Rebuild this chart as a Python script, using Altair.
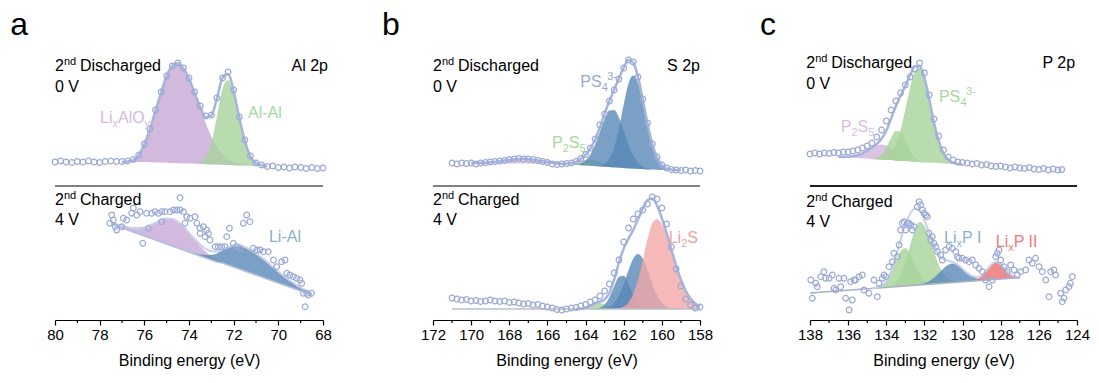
import altair as alt
import pandas as pd

FONT = "Liberation Sans"
PLOT_H = 280
SEP_V = 134

# ---------------- Panel a : Al 2p ----------------
A_TICKS = [80, 78, 76, 74, 72, 70, 68]
A_MINOR = [79, 77, 75, 73, 71, 69]

A_TOP_DATA_E = [80.0, 79.75, 79.5, 79.25, 79.0, 78.75, 78.5, 78.25, 78.0, 77.75, 77.5, 77.25, 77.0,
                76.75, 76.5, 76.25, 76.0, 75.75, 75.5, 75.25, 75.0, 74.75, 74.5, 74.25, 74.0, 73.75,
                73.5, 73.25, 73.0, 72.75, 72.5, 72.25, 72.0, 71.75, 71.5, 71.25, 71.0, 70.75, 70.5,
                70.25, 70.0, 69.75, 69.5, 69.25, 69.0, 68.75, 68.5, 68.25, 68.0]
A_TOP_DATA_V = [158, 159, 158, 157.5, 158.5, 158, 159, 158, 157.5, 158.5, 159, 158.5, 158.5,
                159, 160.5, 165, 176, 191, 210, 228, 244, 254, 257, 252, 242, 228,
                214, 204, 205, 222, 242, 248, 230, 203, 180, 164, 157, 155, 153.5,
                154, 152.5, 153, 152, 153, 152.5, 151.5, 152.5, 151.5, 152]
A_TOP_FIT_E = [77.0, 76.75, 76.5, 76.25, 76.0, 75.75, 75.5, 75.25, 75.0, 74.75, 74.5, 74.25, 74.0,
               73.75, 73.5, 73.25, 73.0, 72.75, 72.5, 72.25, 72.0, 71.75, 71.5, 71.25, 71.0, 70.75, 70.5]
A_TOP_BASE = [158, 158, 158, 158, 158, 157.8, 157.6, 157.4, 157.2, 157, 156.8, 156.6, 156.4,
              156.2, 156, 155.8, 155.6, 155.4, 155.2, 155, 154.8, 154.6, 154.4, 154.2, 154, 153.8, 153.6]
A_TOP_LIALO = [0, 0.5, 2, 7, 18, 33, 52, 70, 87, 97, 100, 95, 85,
               71, 56, 41, 28, 18, 11, 6, 3, 2, 1, 0, 0, 0, 0]
A_TOP_ALAL = [0, 0, 0, 0, 0, 0, 0, 0, 0, 0, 0, 0, 0,
              0, 1, 6, 21, 48, 76, 85, 71, 46, 24, 9, 3, 1, 0]

A_BOT_DATA_E = [77.54, 77.46, 77.39, 77.31, 77.24, 77.01, 76.94, 76.79, 76.57, 76.49, 76.34, 76.19,
                76.07, 75.90, 75.82, 75.67, 75.52, 75.37, 75.22, 75.22, 75.07, 74.85, 74.70, 74.55,
                74.40, 74.40, 74.25, 74.18, 74.10, 73.95, 73.73, 73.65, 73.51, 73.50, 73.36, 73.28,
                73.21, 73.13, 73.06, 72.83, 72.69, 72.54, 72.39, 72.31, 72.19, 72.02, 71.86, 71.72,
                71.57, 71.42, 71.27, 71.12, 70.97, 70.82, 70.67, 70.45, 70.22, 70.07, 69.85, 69.70,
                69.62, 69.48, 69.33, 69.18, 69.03, 68.95, 68.88, 68.80, 68.73, 68.66, 68.51]
A_BOT_DATA_V = [96.7, 105, 100, 93.3, 90, 93.3, 101.7, 100, 106.7, 112, 105, 108.3,
                76.7, 106.7, 91.7, 106.7, 108.3, 106.7, 108.3, 98.3, 108.3, 108.3, 110, 110,
                110, 122.3, 108.3, 96.7, 103.3, 101.7, 103.3, 96.7, 91.7, 86.7, 93.3, 83.3,
                90, 86.7, 80, 73.3, 73.3, 73.3, 73.3, 83.3, 91.7, 76.7, 73.3, 71.7,
                96.7, 105, 98.3, 71.7, 70, 70, 68.3, 68.3, 60, 53.3, 58.3, 60,
                46.7, 45, 43.3, 41.7, 40, 36.7, 26.7, 13.3, 26.7, 25, 26.7]
A_BOT_FIT_E = [77.5, 77.25, 77.0, 76.75, 76.5, 76.25, 76.0, 75.75, 75.5, 75.25, 75.0, 74.75, 74.5,
               74.25, 74.0, 73.75, 73.5, 73.25, 73.0, 72.75, 72.5, 72.25, 72.0, 71.75, 71.5, 71.25,
               71.0, 70.75, 70.5, 70.25, 70.0, 69.75, 69.5, 69.25, 69.0, 68.75, 68.5]
A_BOT_BASE = [96, 94, 92, 90, 88, 86, 84, 82, 80, 78, 76, 74, 72,
              70, 68, 66, 64, 62, 60, 58, 57, 55, 53, 51, 49, 47,
              45, 43, 41, 39, 37, 35, 33, 31, 29, 27, 25]
A_BOT_LIALO = [1, 1.5, 2, 3, 4, 6, 8.4, 12.6, 17.3, 21.9, 25.4, 27, 26.3,
               23.5, 19.2, 14.4, 10, 6.3, 3.6, 1.9, 0.9, 0.4, 0.2, 0, 0, 0,
               0, 0, 0, 0, 0, 0, 0, 0, 0, 0, 0]
A_BOT_LIAL = [0, 0, 0, 0, 0, 0, 0, 0, 0, 0, 0, 0, 0,
              0, 0, 0.7, 1.4, 2.9, 5.2, 8.6, 12.7, 17.3, 21.2, 23.6, 24, 23.2,
              21.6, 19.5, 17, 14.3, 11.6, 9, 6.8, 5, 3.5, 2.4, 1.5]

# ---------------- Panel b : S 2p ----------------
B_TICKS = [172, 170, 168, 166, 164, 162, 160, 158]
B_MINOR = [171, 169, 167, 165, 163, 161, 159]

B_DATA_E = [171.0, 170.75, 170.5, 170.25, 170.0, 169.75, 169.5, 169.25, 169.0, 168.75, 168.5, 168.25,
            168.0, 167.75, 167.5, 167.25, 167.0, 166.75, 166.5, 166.25, 166.0, 165.75, 165.5, 165.25,
            165.0, 164.75, 164.5, 164.25, 164.0, 163.75, 163.5, 163.25, 163.0, 162.75, 162.5, 162.25,
            162.0, 161.75, 161.5, 161.25, 161.0, 160.75, 160.5, 160.25, 160.0, 159.75, 159.5, 159.25,
            159.0, 158.75, 158.5, 158.25, 158.0]
B_TOP_DATA_V = [157, 156, 157, 156.5, 157, 156, 157, 157.5, 158, 158.5, 159, 159.5,
                160.5, 161, 161.5, 161, 161, 160.5, 159.5, 158.5, 157.5, 156, 155.5, 156,
                156.5, 157, 158.5, 161.5, 165.5, 172, 181, 195, 206, 219, 230, 241,
                252, 260, 258, 243, 221, 197, 176, 163, 155, 152, 150.5, 150,
                149.5, 150, 149, 149.5, 149]
B_BOT_DATA_V = [22, 21, 20, 20.5, 19, 19.5, 18.5, 19, 20, 19, 18.5, 19,
                17.5, 18, 17, 16, 16.5, 15, 15.5, 14, 13, 12, 10.5, 10,
                11, 12, 12.5, 14, 15.5, 18, 20, 24, 29, 36, 47, 60,
                78, 92, 101, 106, 110, 116, 123, 121, 112, 96, 73, 51,
                34, 21, 15, 12, 13]
B_TOP_FIT_E = [170.0, 169.75, 169.5, 169.25, 169.0, 168.75, 168.5, 168.25, 168.0, 167.75, 167.5,
               167.25, 167.0, 166.75, 166.5, 166.25, 166.0, 165.75, 165.5, 165.25, 165.0, 164.75,
               164.5, 164.25, 164.0, 163.75, 163.5, 163.25, 163.0, 162.75, 162.5, 162.25, 162.0,
               161.75, 161.5, 161.25, 161.0, 160.75, 160.5, 160.25, 160.0, 159.75, 159.5, 159.25, 159.0]
B_TOP_BASE = [157, 156.8, 156.7, 156.6, 156.5, 156.5, 156.4, 156.4, 156.3, 156.3, 156.2,
              156.2, 156.1, 156, 156, 155.9, 155.8, 155.7, 155.6, 155.5, 155.4, 155.3,
              155, 154.8, 154.5, 154.3, 154, 153.7, 153.4, 153, 152.7, 152.4, 152.1,
              151.8, 151.5, 151.2, 150.9, 150.6, 150.4, 150.2, 150, 150, 150, 150, 150]
B_TOP_SOX = [0, 0.2, 0.4, 0.7, 1.2, 1.7, 2.4, 3.2, 3.9, 4.5, 4.9,
             5, 4.8, 4.3, 3.6, 2.9, 2.1, 1.5, 1, 0.6, 0.3, 0,
             0, 0, 0, 0, 0, 0, 0, 0, 0, 0, 0,
             0, 0, 0, 0, 0, 0, 0, 0, 0, 0, 0, 0]
B_TOP_P2S5 = [0, 0, 0, 0, 0, 0, 0, 0, 0, 0, 0,
              0, 0, 0, 0, 0, 0, 0, 0, 0, 0.8, 1.7,
              3, 4.5, 5.7, 6, 5.3, 3.9, 2.5, 1.3, 0.6, 0.2, 0,
              0, 0, 0, 0, 0, 0, 0, 0, 0, 0, 0, 0]
B_TOP_PS4A = [0, 0, 0, 0, 0, 0, 0, 0, 0, 0, 0,
              0, 0, 0, 0, 0, 0, 0, 0, 0, 0, 0,
              0, 2, 5.1, 11.3, 21.3, 34.4, 47.6, 56.4, 57.3, 49.8, 37.1,
              23.7, 12.9, 6.1, 2.4, 0.8, 0, 0, 0, 0, 0, 0, 0]
B_TOP_PS4B = [0, 0, 0, 0, 0, 0, 0, 0, 0, 0, 0,
              0, 0, 0, 0, 0, 0, 0, 0, 0, 0, 0,
              0, 0, 0, 0, 0, 0.8, 2.9, 8.4, 20, 39.2, 63.3,
              84.5, 93, 85.8, 67.2, 44.8, 25.4, 12.2, 5, 1.7, 0.5, 0, 0]

B_BOT_BASE_LINE_E = [171, 158]
B_BOT_BASE_LINE_V = [11, 11]
B_BOT_FIT_E = [164.5, 164.25, 164.0, 163.75, 163.5, 163.25, 163.0, 162.75, 162.5, 162.25, 162.0,
               161.75, 161.5, 161.25, 161.0, 160.75, 160.5, 160.25, 160.0, 159.75, 159.5, 159.25,
               159.0, 158.75, 158.5, 158.25, 158.0]
B_BOT_BASE = [11, 11, 11, 11, 11, 11, 11, 11, 11, 11, 11, 11, 11, 11,
              11, 11, 11, 11, 11, 11, 11, 11, 11, 11, 11, 11, 11]
B_BOT_P2S5 = [0, 0.2, 1.2, 3.1, 5.3, 6, 4.4, 2.2, 0.7, 0.2, 0,
              0, 0, 0, 0, 0, 0, 0, 0, 0, 0, 0, 0, 0, 0, 0, 0]
B_BOT_PS4A = [0, 0, 0, 0, 0.3, 1.3, 4.5, 11.8, 22.8, 32.1, 33.2,
              25, 13.8, 5.6, 1.6, 0.4, 0, 0, 0, 0, 0, 0, 0, 0, 0, 0, 0]
B_BOT_PS4B = [0, 0, 0, 0, 0, 0, 0.7, 2.3, 6.1, 13.4, 24.9,
              38.7, 50.4, 55, 50.4, 38.7, 24.9, 13.4, 6.1, 2.3, 0.7, 0.2, 0, 0, 0, 0, 0]
B_BOT_LI2S = [0, 0, 0, 0, 0, 0, 0, 0, 0, 0.8, 2.4,
              6.5, 14.9, 29.1, 48.8, 69.9, 85.6, 89.8, 84.8, 73.6, 58.7, 43.2,
              29.2, 18.2, 10.4, 5.5, 2.6]

# ---------------- Panel c : P 2p ----------------
C_TICKS = [138, 136, 134, 132, 130, 128, 126, 124]
C_MINOR = [137, 135, 133, 131, 129, 127, 125]

C_TOP_DATA_E = [138.0, 137.75, 137.5, 137.25, 137.0, 136.75, 136.5, 136.25, 136.0, 135.75, 135.5,
                135.25, 135.0, 134.75, 134.5, 134.25, 134.0, 133.75, 133.5, 133.25, 133.0, 132.75,
                132.5, 132.25, 132.0, 131.75, 131.5, 131.25, 131.0, 130.75, 130.5, 130.25, 130.0,
                129.75, 129.5, 129.25, 129.0, 128.75, 128.5, 128.25, 128.0, 127.75, 127.5, 127.25,
                127.0, 126.75, 126.5, 126.25, 126.0, 125.75, 125.5, 125.25, 125.0, 124.8]
C_TOP_DATA_V = [166, 167, 166, 167, 166.5, 167.5, 167, 168, 168, 169, 170,
                172, 174, 177, 183, 190, 199, 210, 219, 227, 235, 243,
                251, 257, 247, 225, 201, 184, 170, 163, 160, 158, 157.5,
                157, 156, 156.5, 155, 155.5, 154, 153.5, 154, 153, 152, 153,
                152, 151.5, 152.5, 151, 150.5, 151.5, 150, 151, 150, 150.5]
C_TOP_FIT_E = [136.5, 136.25, 136.0, 135.75, 135.5, 135.25, 135.0, 134.75, 134.5, 134.25, 134.0,
               133.75, 133.5, 133.25, 133.0, 132.75, 132.5, 132.25, 132.0, 131.75, 131.5, 131.25,
               131.0, 130.75, 130.5, 130.25, 130.0]
C_TOP_BASE = [163.2, 162.9, 162.6, 162.3, 162, 161.7, 161.4, 161.1, 160.8, 160.5, 160.2,
              159.9, 159.6, 159.3, 159, 158.7, 158.4, 158.1, 157.8, 157.5, 157.2, 156.9,
              156.6, 156.3, 156, 155.8, 155.5]
C_TOP_P2S5 = [0.1, 0.2, 0.6, 1.4, 2.8, 5, 7.9, 11.1, 13.7, 15, 14.4,
              12.3, 9.2, 6.1, 3.6, 1.8, 0.8, 0.3, 0, 0, 0, 0,
              0, 0, 0, 0, 0]
C_TOP_PS4A = [0, 0, 0, 0, 0, 0, 0, 0, 1.4, 4.9, 12.2,
              22.1, 29.3, 28.4, 20.1, 10.4, 4, 1.1, 0.2, 0, 0, 0,
              0, 0, 0, 0, 0]
C_TOP_PS4B = [0, 0, 0, 0, 0, 0, 0, 0, 0, 0.8, 2.5,
              6.9, 15.7, 30.7, 51.5, 73.8, 90.4, 94.7, 84.2, 63.4, 40.4, 21.9,
              10, 3.9, 1.3, 0.3, 0]

C_BOT_DATA_E = [137.96, 137.88, 137.70, 137.62, 137.44, 137.27, 137.18, 137.00, 136.83, 136.74,
                136.65, 136.48, 136.39, 136.22, 136.13, 135.95, 135.87, 135.78, 135.69, 135.61,
                135.43, 135.26, 135.17, 134.91, 134.64, 134.47, 134.38, 134.21, 134.12, 134.03,
                133.86, 133.68, 133.60, 133.42, 133.33, 133.25, 133.16, 133.07, 132.98, 132.90,
                132.81, 132.72, 132.63, 132.55, 132.37, 132.28, 132.20, 132.11, 132.02, 131.93,
                131.85, 131.76, 131.67, 131.59, 131.50, 131.41, 131.32, 131.15, 131.06, 130.89,
                130.71, 130.54, 130.36, 130.27, 130.19, 130.01, 129.84, 129.66, 129.49, 129.31,
                129.14, 128.96, 128.79, 128.61, 128.44, 128.26, 128.18, 128.09, 128.00, 127.83,
                127.65, 127.48, 127.30, 127.13, 126.95, 126.69, 126.52, 126.34, 126.17, 125.99,
                125.82, 125.64, 125.47, 125.38, 125.21, 125.12, 124.86, 124.77, 124.68, 124.59,
                124.42, 124.35, 124.25]
C_BOT_DATA_V = [40, 21.7, 36.7, 33.3, 43.3, 48.3, 41.7, 41.7, 45, 31.7,
                30, 41.7, 33.3, 41.7, 21.7, 10, 38.3, 20, 40, 40,
                43.3, 45, 30, 26.7, 40, 23.3, 36.7, 41.7, 45, 43.3,
                53.3, 58.3, 66.7, 63.3, 75, 90, 96.7, 98.3, 90, 96.7,
                96.7, 95, 90, 93.3, 113.3, 118.3, 115, 110, 106.7, 105,
                103.3, 86.7, 80, 83.3, 76.7, 73.3, 68.3, 65, 60, 70,
                73.3, 71.7, 68.3, 63.3, 61.7, 61.7, 60, 58.3, 60, 55,
                51.7, 48.3, 40, 33.3, 40, 63.3, 66.7, 70, 60, 53.3,
                48.3, 55, 50, 45, 48.3, 50, 60, 56.7, 61.7, 53.3,
                48.3, 40, 23.3, 48.3, 50, 45, 26.7, 18.3, 21.7, 30,
                33.3, 36.7, 43.3]
C_BOT_BASE_LINE_E = [138, 127]
C_BOT_BASE_LINE_V = [27, 42.4]
C_BOT_FIT_E = [134.75, 134.5, 134.25, 134.0, 133.75, 133.5, 133.25, 133.0, 132.75, 132.5, 132.25,
               132.0, 131.75, 131.5, 131.25, 131.0, 130.75, 130.5, 130.25, 130.0, 129.75, 129.5,
               129.25, 129.0, 128.75, 128.5, 128.25, 128.0, 127.75, 127.5, 127.25, 127.0]
C_BOT_BASE = [31.6, 31.9, 32.3, 32.6, 33.0, 33.3, 33.7, 34.0, 34.4, 34.7, 35.1,
              35.4, 35.8, 36.1, 36.5, 36.8, 37.2, 37.5, 37.9, 38.2, 38.6, 38.9,
              39.3, 39.6, 40.0, 40.3, 40.7, 41.0, 41.4, 41.7, 42.1, 42.4]
C_BOT_PS4A = [0.1, 0.6, 2.1, 6.2, 14.3, 25.3, 35.1, 38, 31.7, 20.7, 10.6,
              4.2, 1.3, 0.3, 0, 0, 0, 0, 0, 0, 0, 0,
              0, 0, 0, 0, 0, 0, 0, 0, 0, 0]
C_BOT_PS4B = [0, 0, 0, 0, 1.3, 4.3, 11.1, 23.5, 40.2, 55.8, 63,
              58.9, 47.1, 32.1, 18.7, 9.3, 4, 1.4, 0.4, 0, 0, 0,
              0, 0, 0, 0, 0, 0, 0, 0, 0, 0]
C_BOT_LIXP1 = [0, 0, 0, 0, 0, 0, 0, 0, 0, 0, 0.5,
               1.4, 3.1, 6.2, 10.3, 14.7, 18.1, 19, 17, 13, 8.5, 4.8,
               2.3, 0.9, 0.3, 0, 0, 0, 0, 0, 0, 0]
C_BOT_LIXP2 = [0, 0, 0, 0, 0, 0, 0, 0, 0, 0, 0,
               0, 0, 0, 0, 0, 0, 0, 0, 0, 0, 0.4,
               1.4, 4.3, 9.4, 15, 17.5, 15, 9.4, 4.3, 1.4, 0.4]

# ---------------- styles ----------------
PURPLE = "#c7a7d6"
GREEN = "#a7d39b"
BLUE = "#5988b8"
PINK = "#f2a7a7"
RED = "#ec6f6f"
LILAC = "#d3b4dd"
FAINT = "#e2c6e0"
CIRCLE = "#9aa9d5"
AREA_OP = 0.8

YS = alt.Scale(domain=[0, PLOT_H], nice=False, zero=False)


def make_axis(ticks):
    return alt.Axis(values=ticks, format="d", title="Binding energy (eV)", grid=False,
                    tickSize=5, tickWidth=1.2, tickColor="black", domainColor="black",
                    domainWidth=1.2, labelFont=FONT, labelFontSize=15, labelColor="black",
                    labelPadding=2, labelFlush=False, labelOverlap=False, titleFont=FONT,
                    titleFontSize=16, titleFontWeight="normal", titleColor="black",
                    titlePadding=10)


def enc_x(field, xs, ax):
    return alt.X(field, type="quantitative", scale=xs, axis=ax)


def enc_y(field):
    return alt.Y(field, type="quantitative", scale=YS, axis=None)


def spectrum(xs, ax, fit_e, base, comps, env_color, env_width, data_e, data_v,
             base_line=None):
    layers = []
    for vals, color in comps:
        df = pd.DataFrame({"E": fit_e, "lo": base,
                           "hi": [b + h for b, h in zip(base, vals)]})
        layers.append(alt.Chart(df).mark_area(color=color, opacity=AREA_OP,
                                              interpolate="monotone")
                      .encode(x=enc_x("E", xs, ax), y=enc_y("hi"), y2=alt.Y2("lo")))
    if base_line is not None:
        be, bv, bc = base_line
        layers.append(alt.Chart(pd.DataFrame({"E": be, "v": bv}))
                      .mark_line(color=bc, strokeWidth=1.6)
                      .encode(x=enc_x("E", xs, ax), y=enc_y("v")))
    env = []
    for i, b in enumerate(base):
        env.append(b + sum(vals[i] for vals, _ in comps))
    layers.append(alt.Chart(pd.DataFrame({"E": fit_e, "v": env}))
                  .mark_line(color=env_color, strokeWidth=env_width, interpolate="monotone")
                  .encode(x=enc_x("E", xs, ax), y=enc_y("v")))
    layers.append(alt.Chart(pd.DataFrame({"E": data_e, "v": data_v}))
                  .mark_point(shape="circle", filled=False, size=32, strokeWidth=1.2,
                              color=CIRCLE, opacity=1)
                  .encode(x=enc_x("E", xs, ax), y=enc_y("v")))
    return layers


def rich(xs, ax, E, v, pieces, color, align="left"):
    out = []
    for txt, size, dx, dy in pieces:
        df = pd.DataFrame({"E": [E], "v": [v], "t": [txt]})
        out.append(alt.Chart(df).mark_text(align=align, baseline="alphabetic", dx=dx, dy=dy,
                                           fontSize=size, font=FONT, color=color)
                   .encode(x=enc_x("E", xs, ax), y=enc_y("v"), text="t:N"))
    return out


def frame(xs, ax, dom, minor, sep_color, letter, letter_e):
    layers = []
    layers.append(alt.Chart(pd.DataFrame({"E1": [dom[0]], "E2": [dom[1]], "v": [SEP_V]}))
                  .mark_rule(color=sep_color, strokeWidth=2)
                  .encode(x=enc_x("E1", xs, ax), x2=alt.X2("E2"), y=enc_y("v")))
    layers.append(alt.Chart(pd.DataFrame({"E": minor}))
                  .mark_rule(color="black", strokeWidth=1.2)
                  .encode(x=enc_x("E", xs, ax), y=alt.value(PLOT_H), y2=alt.value(PLOT_H + 3)))
    layers += rich(xs, ax, letter_e, 285, [(letter, 32, 0, 0)], "black")
    return layers


def state_labels(xs, ax, E, v1, v2, v3, v4, right_e, right_txt, right_dx, vr):
    out = []
    out += rich(xs, ax, E, v1, [("2", 16, 0, 0), ("nd", 11, 9, -6), ("Discharged", 16, 25, 0)], "black")
    out += rich(xs, ax, E, v2, [("0 V", 16, 0, 0)], "black")
    out += rich(xs, ax, right_e, vr, [(right_txt, 16, right_dx, 0)], "black", align="right")
    out += rich(xs, ax, E, v3, [("2", 16, 0, 0), ("nd", 11, 9, -6), ("Charged", 16, 25, 0)], "black")
    out += rich(xs, ax, E, v4, [("4 V", 16, 0, 0)], "black")
    return out


# ---------------- panel a ----------------
xa = alt.Scale(domain=[80, 68], nice=False, zero=False)
axa = make_axis(A_TICKS)
la = []
la += spectrum(xa, axa, A_TOP_FIT_E, A_TOP_BASE,
               [(A_TOP_LIALO, PURPLE), (A_TOP_ALAL, GREEN)], "#a7b4db", 2.5,
               A_TOP_DATA_E, A_TOP_DATA_V)
la += spectrum(xa, axa, A_BOT_FIT_E, A_BOT_BASE,
               [(A_BOT_LIALO, PURPLE), (A_BOT_LIAL, BLUE)], "#c9d1ea", 2,
               A_BOT_DATA_E, A_BOT_DATA_V,
               base_line=(A_BOT_FIT_E, A_BOT_BASE, "#b3bedc"))
la += frame(xa, axa, [80, 68], A_MINOR, "#808080", "a", 82.0)
la += state_labels(xa, axa, 80, 249, 228, 115.5, 95, 68, "Al 2p", 5, 249)
la += rich(xa, axa, 77.98, 197, [("Li", 16, 0, 0), ("x", 11, 12.5, 4), ("AlO", 16, 18, 0),
                                 ("y", 11, 44.5, 4)], "#d5b9e1")
la += rich(xa, axa, 71.36, 202, [("Al-Al", 16, 0, 0)], "#a5d7a0")
la += rich(xa, axa, 70.42, 78, [("Li-Al", 16, 0, 0)], "#8cafcd")
panel_a = alt.layer(*la).properties(width=268, height=PLOT_H)

# ---------------- panel b ----------------
xb = alt.Scale(domain=[172, 158], nice=False, zero=False)
axb = make_axis(B_TICKS)
lb = []
lb += spectrum(xb, axb, B_TOP_FIT_E, B_TOP_BASE,
               [(B_TOP_SOX, FAINT), (B_TOP_P2S5, GREEN), (B_TOP_PS4A, BLUE), (B_TOP_PS4B, BLUE)],
               "#a7b4db", 2.5, B_DATA_E, B_TOP_DATA_V)
lb += spectrum(xb, axb, B_BOT_FIT_E, B_BOT_BASE,
               [(B_BOT_P2S5, GREEN), (B_BOT_PS4A, BLUE), (B_BOT_PS4B, BLUE), (B_BOT_LI2S, PINK)],
               "#a7b4db", 2.5, B_DATA_E, B_BOT_DATA_V,
               base_line=(B_BOT_BASE_LINE_E, B_BOT_BASE_LINE_V, "#b9bfcc"))
lb += frame(xb, axb, [172, 158], B_MINOR, "#808080", "b", 174.67)
lb += state_labels(xb, axb, 172, 249, 228, 115.5, 95, 158, "S 2p", 0, 249)
lb += rich(xb, axb, 164.28, 233, [("PS", 16, 0, 0), ("4", 11, 21.5, 4), ("3-", 11, 27, -7)],
           "#96aacd")
lb += rich(xb, axb, 165.76, 172, [("P", 16, 0, 0), ("2", 11, 10.7, 4), ("S", 16, 16.8, 0),
                                  ("5", 11, 27.5, 4)], "#a5d7a0")
lb += rich(xb, axb, 159.64, 77, [("Li", 16, 0, 0), ("2", 11, 12.5, 4), ("S", 16, 18.6, 0)],
           "#f5a0a0")
panel_b = alt.layer(*lb).properties(width=267, height=PLOT_H)

# ---------------- panel c ----------------
xc = alt.Scale(domain=[138, 124], nice=False, zero=False)
axc = make_axis(C_TICKS)
lc = []
lc += spectrum(xc, axc, C_TOP_FIT_E, C_TOP_BASE,
               [(C_TOP_P2S5, LILAC), (C_TOP_PS4A, GREEN), (C_TOP_PS4B, GREEN)],
               "#a7b4db", 2.5, C_TOP_DATA_E, C_TOP_DATA_V)
lc += spectrum(xc, axc, C_BOT_FIT_E, C_BOT_BASE,
               [(C_BOT_PS4A, GREEN), (C_BOT_PS4B, GREEN), (C_BOT_LIXP1, BLUE), (C_BOT_LIXP2, RED)],
               "#c9d1ea", 2, C_BOT_DATA_E, C_BOT_DATA_V,
               base_line=(C_BOT_BASE_LINE_E, C_BOT_BASE_LINE_V, "#a9b1c9"))
lc += frame(xc, axc, [138, 124], C_MINOR, "#202020", "c", 140.62)
lc += state_labels(xc, axc, 138.2, 252, 231.5, 113.5, 93.5, 124.1, "P 2p", 0, 252)
lc += rich(xc, axc, 136.39, 188, [("P", 16, 0, 0), ("2", 11, 10.7, 4), ("S", 16, 16.8, 0),
                                  ("5", 11, 27.5, 4)], "#d7bee1")
lc += rich(xc, axc, 131.24, 218, [("PS", 16, 0, 0), ("4", 11, 21.5, 4), ("3-", 11, 27, -7)],
           "#a5d7a0")
lc += rich(xc, axc, 130.97, 77, [("Li", 16, 0, 0), ("x", 11, 12.5, 4), ("P I", 16, 18, 0)],
           "#8cafcd")
lc += rich(xc, axc, 128.26, 73, [("Li", 16, 0, 0), ("x", 11, 12.5, 4), ("P II", 16, 18, 0)],
           "#f07878")
panel_c = alt.layer(*lc).properties(width=267, height=PLOT_H)

chart = (alt.hconcat(panel_a, panel_b, panel_c, spacing=110, bounds="flush")
         .properties(padding={"left": 10, "top": 9, "right": 5, "bottom": 5},
                     background="white")
         .configure_view(stroke=None))

chart.save("out.html", embed_options={"renderer": "svg", "actions": False})
